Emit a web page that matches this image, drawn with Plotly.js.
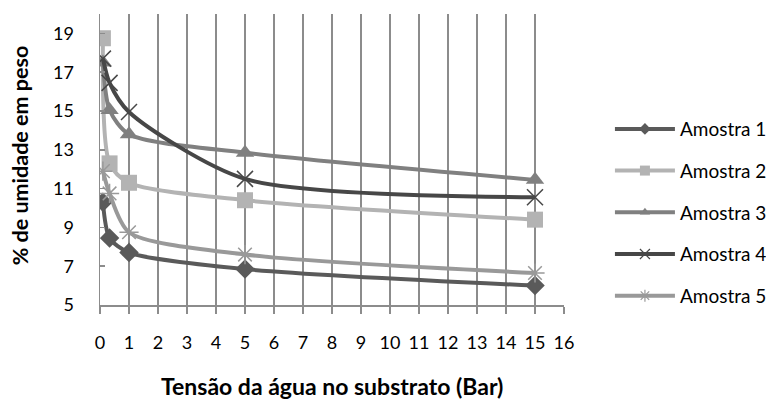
<!DOCTYPE html>
<html>
<head>
<meta charset="utf-8">
<script src="https://cdn.plot.ly/plotly-3.0.1.min.js"></script>
<style>html,body{margin:0;padding:0;background:#fff;}#chart{width:766px;height:402px;}</style>
</head>
<body>
<div id="chart"></div>
<script>
var tensao = [0.1, 0.33, 1, 5, 15];
var amostra1 = [10.3, 8.45, 7.7, 6.85, 6.0];
var amostra2 = [18.75, 12.3, 11.3, 10.4, 9.4];
var amostra3 = [17.5, 15.05, 13.8, 12.85, 11.45];
var amostra4 = [17.7, 16.45, 14.95, 11.5, 10.55];
var amostra5 = [11.9, 10.75, 8.75, 7.6, 6.65];
var seriesNames = ['Amostra 1', 'Amostra 2', 'Amostra 3', 'Amostra 4', 'Amostra 5'];
var xTicks = [0,1,2,3,4,5,6,7,8,9,10,11,12,13,14,15,16];
var yTicks = [5,7,9,11,13,15,17,19];
var xTitle = 'Tensão da água no substrato (Bar)';
var yTitle = '% de umidade em peso';

var data = [amostra1, amostra2, amostra3, amostra4, amostra5];
var colors = ['#5a5a5a', '#b3b3b3', '#808080', '#474747', '#999999'];
var symbols = ['diamond', 'square', 'triangle-up', 'x-thin-open', 'asterisk-open'];
var sizes = [15, 16, 16, 16, 16];
var legSizes = [9, 10, 9, 10, 10];

var traces = [];
for (var i = 0; i < data.length; i++) {
  var thin = symbols[i].indexOf('open') >= 0;
  traces.push({
    x: tensao, y: data[i], type: 'scatter', mode: 'lines+markers',
    name: seriesNames[i], showlegend: false,
    line: {color: colors[i], width: 4, shape: 'spline', smoothing: 0.75},
    marker: {symbol: symbols[i], size: sizes[i], color: colors[i],
      line: {color: colors[i], width: thin ? 1.5 : 0}}
  });
}
for (var j = 0; j < data.length; j++) {
  var thin2 = symbols[j].indexOf('open') >= 0;
  traces.push({
    x: [null], y: [null], type: 'scatter', mode: 'lines+markers',
    name: seriesNames[j], legendgroup: 'g' + j,
    line: {color: colors[j], width: 4},
    marker: {symbol: symbols[j], size: legSizes[j], color: colors[j],
      line: {color: colors[j], width: thin2 ? 1.2 : 0}}
  });
}

var fontFam = 'Lato, "Open Sans", sans-serif';
var layout = {
  width: 766, height: 402,
  margin: {l: 100, r: 202, t: 14, b: 97, autoexpand: false},
  paper_bgcolor: '#fff', plot_bgcolor: '#fff',
  font: {family: fontFam, size: 18, color: '#000'},
  showlegend: true,
  legend: {x: 1.099, y: 0.67, xanchor: 'left', yanchor: 'top',
    font: {family: fontFam, size: 19, color: '#000'},
    itemwidth: 60, tracegroupgap: 14, bgcolor: 'rgba(0,0,0,0)'},
  xaxis: {
    range: [0, 16], tickvals: xTicks, ticktext: xTicks.map(String),
    showgrid: true, gridcolor: '#8c8c8c', gridwidth: 1.5,
    showline: true, linecolor: '#8c8c8c', linewidth: 1.5,
    ticks: 'outside', ticklen: 7, tickwidth: 1.5, tickcolor: '#8c8c8c',
    ticklabelstandoff: 14, zeroline: false, tickfont: {size: 18}
  },
  yaxis: {
    range: [5, 20], tickvals: yTicks, ticktext: yTicks.map(String),
    showgrid: false, showline: true, linecolor: '#8c8c8c', linewidth: 1.5,
    ticks: 'inside', ticklen: 5, tickwidth: 1.5, tickcolor: '#8c8c8c',
    ticklabelstandoff: 21, zeroline: false, tickfont: {size: 18}
  },
  annotations: [
    {text: '<b>' + xTitle + '</b>', xref: 'paper', yref: 'paper', x: 0.5, y: -0.279,
     xanchor: 'center', yanchor: 'middle', showarrow: false, font: {family: fontFam, size: 23}},
    {text: '<b>' + yTitle + '</b>', xref: 'paper', yref: 'paper', x: -0.172, y: 0.515,
     xanchor: 'center', yanchor: 'middle', textangle: -90, showarrow: false, font: {family: fontFam, size: 21.5}}
  ]
};
Plotly.newPlot('chart', traces, layout, {displayModeBar: false, staticPlot: true});
</script>
</body>
</html>
